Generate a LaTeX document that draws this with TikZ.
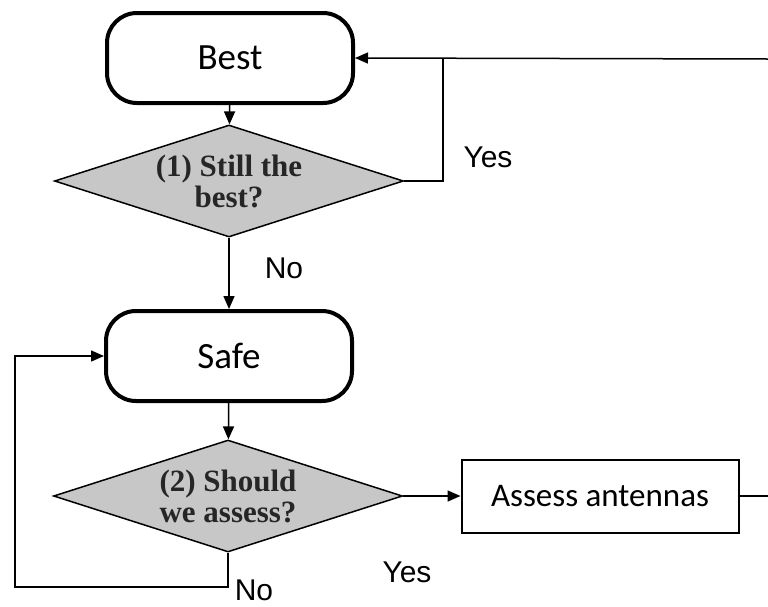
\documentclass[tikz,border=0pt]{standalone}
\usepackage{fontspec}
\usetikzlibrary{shapes.geometric,arrows.meta}
\newfontfamily\boxfont{Carlito}
\newfontfamily\yesnofont{Liberation Sans}
\newfontfamily\askfont{Liberation Serif}

\begin{document}
\begin{tikzpicture}[x=1pt,y=-1pt,
    state/.style={draw,line width=4pt,rounded corners=30pt,minimum width=246pt,minimum height=90pt,font=\boxfont\fontsize{37}{42}\selectfont},
    ask/.style={diamond,aspect=3.1,draw,line width=1.5pt,fill=black!22,inner sep=0pt,minimum width=349pt,minimum height=112pt,align=center,font=\askfont\bfseries\fontsize{31}{31}\selectfont,text=black!85},
    task/.style={draw,line width=2pt,minimum width=277pt,minimum height=73pt,font=\boxfont\fontsize{33}{40}\selectfont},
    answer/.style={font=\yesnofont\fontsize{30}{36}\selectfont},
    arr/.style={line width=1.5pt,-{Triangle[length=13pt,width=11pt]}},
    wire/.style={line width=1.5pt}]
    \useasboundingbox (0,0) rectangle (768,606);

    % boxes and questions
    \node[state] (best) at (230,58) {Best};
    \node[ask] (still) at (229,181) {(1) Still the\\best?};
    \node[state] (safe) at (229,356) {Safe};
    \node[ask] (assess) at (228,496) {(2) Should\\we assess?};
    \node[task] (antennas) at (600,496) {Assess antennas};

    % free ends and turning points
    \coordinate (topend) at (768,59);
    \coordinate (yesjoin) at (443,59);
    \coordinate (rightend) at (768,496);
    \coordinate (nocorner) at (15,587);

    \draw[arr] (best) -- (still);
    \draw[arr] (still) -- (safe);
    \draw[arr] (safe) -- (assess);
    \draw[wire] (still.east) -| (yesjoin);
    \draw[arr] (topend) -- (best.east);
    \draw[arr] (assess.east) -- (antennas.west);
    \draw[wire] (antennas.east) -- (rightend);
    \draw[arr] (assess.south) |- (nocorner) |- (safe.west);

    % answers
    \node[answer] (yes1) at (488,157) {Yes};
    \node[answer] (no1) at (284,268) {No};
    \node[answer] (yes2) at (407,572) {Yes};
    \node[answer] (no2) at (254,590) {No};
\end{tikzpicture}
\end{document}
